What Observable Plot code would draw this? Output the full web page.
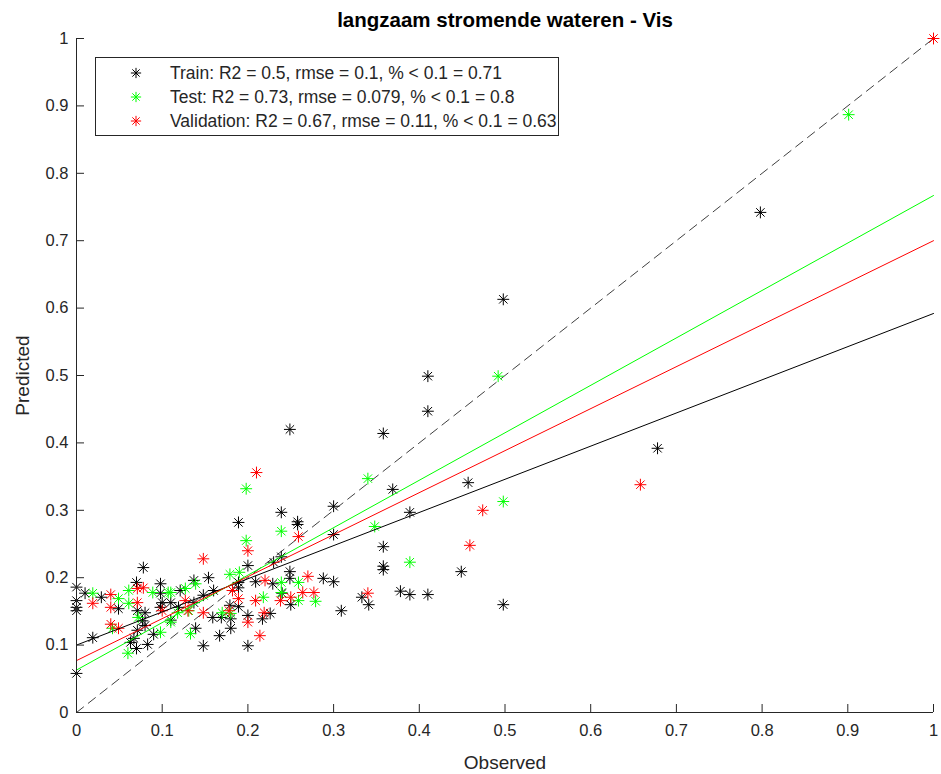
<!DOCTYPE html>
<html><head><meta charset="utf-8">
<script src="https://cdn.jsdelivr.net/npm/d3@7"></script>
<script src="https://cdn.jsdelivr.net/npm/@observablehq/plot@0.6"></script>
<style>body{margin:0;background:#fff}#chart{width:941px;height:774px}</style>
</head><body><div id="chart"></div>
<script>
const title = "langzaam stromende wateren - Vis";
const xLabel = "Observed";
const yLabel = "Predicted";
const seriesNames = ["Train", "Test", "Validation"];
const seriesColors = ["#000000", "#00ff00", "#ff0000"];
const legendLabels = [
  "Train: R2 = 0.5, rmse = 0.1, % < 0.1 = 0.71",
  "Test: R2 = 0.73, rmse = 0.079, % < 0.1 = 0.8",
  "Validation: R2 = 0.67, rmse = 0.11, % < 0.1 = 0.63"
];
const axisTicks = [0, 0.1, 0.2, 0.3, 0.4, 0.5, 0.6, 0.7, 0.8, 0.9, 1];

const trainObs = [0.798,0.498,0.41,0.41,0.249,0.358,0.678,0.457,0.369,0.30,0.389,0.239,0.258,0.258,0.189,0.30,0.358,0.358,0.358,0.449,0.498,0.30,0.333,0.341,0.309,0.378,0.389,0.41,0.2,0.23,0.239,0.249,0.288,0.189,0.209,0.229,0.249,0.24,0.25,0.226,0.217,0.2,0.18,0.167,0.148,0.139,0.18,0.169,0.159,0.189,0.189,0.16,0.154,0.137,0,0,0,0,0,0.01,0.019,0.029,0.049,0.078,0.07,0.098,0.098,0.071,0.08,0.077,0.08,0.071,0.067,0.063,0.07,0.083,0.09,0.098,0.121,0.148,0.1,0.11,0.119,0.137,0.11,0.179,0.2];
const trainPred = [0.742,0.613,0.499,0.447,0.42,0.414,0.392,0.341,0.331,0.306,0.297,0.297,0.283,0.279,0.282,0.264,0.246,0.217,0.212,0.209,0.16,0.194,0.171,0.16,0.151,0.18,0.175,0.175,0.218,0.223,0.231,0.209,0.199,0.193,0.194,0.191,0.199,0.177,0.16,0.147,0.139,0.099,0.125,0.114,0.099,0.125,0.139,0.141,0.141,0.157,0.185,0.181,0.2,0.196,0.186,0.166,0.156,0.151,0.058,0.177,0.111,0.171,0.154,0.215,0.193,0.191,0.177,0.151,0.148,0.136,0.129,0.122,0.11,0.104,0.095,0.101,0.116,0.156,0.181,0.174,0.163,0.163,0.156,0.163,0.137,0.159,0.144];

const testObs = [0.901,0.492,0.498,0.34,0.348,0.389,0.198,0.198,0.239,0.179,0.19,0.239,0.259,0.218,0.239,0.259,0.279,0.17,0.18,0.139,0.127,0.131,0.133,0.11,0.118,0.11,0.098,0.019,0.049,0.042,0.061,0.089,0.061,0.072,0.06,0.107];
const testPred = [0.887,0.499,0.313,0.347,0.276,0.223,0.332,0.255,0.269,0.205,0.208,0.193,0.193,0.171,0.178,0.166,0.165,0.148,0.147,0.191,0.184,0.151,0.117,0.178,0.148,0.134,0.119,0.177,0.169,0.125,0.181,0.178,0.162,0.141,0.088,0.178];

const valObs = [1.0,0.658,0.474,0.459,0.34,0.21,0.259,0.2,0.148,0.27,0.22,0.264,0.277,0.25,0.238,0.209,0.219,0.2,0.214,0.189,0.182,0.178,0.148,0.127,0.13,0.1,0.019,0.04,0.04,0.04,0.049,0.078,0.071,0.071];
const valPred = [1.0,0.338,0.3,0.248,0.177,0.356,0.261,0.24,0.228,0.202,0.196,0.178,0.178,0.171,0.166,0.166,0.148,0.134,0.114,0.169,0.181,0.151,0.148,0.166,0.151,0.151,0.162,0.175,0.156,0.131,0.125,0.185,0.184,0.163];

// fit-line end points (at Observed = 0 and Observed = 1)
const fitX = [0, 1];
const trainFit = [0.100, 0.592];
const testFit = [0.063, 0.767];
const valFit = [0.077, 0.700];
const identity = [0, 1];

const obsAll = [trainObs, testObs, valObs];
const predAll = [trainPred, testPred, valPred];
const fitsAll = [trainFit, testFit, valFit];

const points = [];
seriesNames.forEach((s, i) => obsAll[i].forEach((o, j) => points.push({series: s, obs: o, pred: predAll[i][j]})));
const fitRows = [];
seriesNames.forEach((s, i) => fitX.forEach((x, j) => fitRows.push({series: s, obs: x, pred: fitsAll[i][j]})));
const idRows = fitX.map((x, j) => ({obs: x, pred: identity[j]}));

const colorOf = Object.fromEntries(seriesNames.map((s, i) => [s, seriesColors[i]]));
const font = "'Liberation Sans', Arial, Helvetica, sans-serif";
const ink = "#262626";
const R = 3.9;

const pointMarks = [];
seriesNames.forEach(s => {
  const d = points.filter(p => p.series === s);
  for (const sym of ["plus", "times"]) {
    pointMarks.push(Plot.dot(d, {x: "obs", y: "pred", symbol: () => sym, r: R, stroke: colorOf[s], strokeWidth: 1, fill: "none"}));
  }
});

const plot = Plot.plot({
  width: 941, height: 774,
  marginLeft: 76, marginRight: 8, marginTop: 38, marginBottom: 62,
  style: {fontFamily: font, fontSize: "16px", color: ink, background: "#fff", overflow: "visible"},
  x: {domain: [0, 1], label: null},
  y: {domain: [0, 1], label: null},
  symbol: {type: "identity"},
  marks: [
    Plot.line(idRows, {x: "obs", y: "pred", stroke: "#404040", strokeWidth: 1, strokeDasharray: "9,6"}),
    ...pointMarks,
    ...seriesNames.map(s => Plot.line(fitRows.filter(r => r.series === s), {x: "obs", y: "pred", stroke: colorOf[s], strokeWidth: 1})),
    Plot.ruleY([0], {stroke: ink, strokeWidth: 1}),
    Plot.ruleX([0], {stroke: ink, strokeWidth: 1}),
    Plot.axisX(axisTicks, {tickSize: -8, tickPadding: 20, tickFormat: d => String(d), stroke: ink, fill: ink, fontSize: 16.5, label: null}),
    Plot.axisY(axisTicks, {tickSize: -8, tickPadding: 16, tickFormat: d => String(d), stroke: ink, fill: ink, fontSize: 16.5, label: null}),
    Plot.text([title], {frameAnchor: "top", lineAnchor: "middle", textAnchor: "middle", dy: -18, fontWeight: "bold", fontSize: 20.5, fill: "#000"}),
    Plot.text([xLabel], {frameAnchor: "bottom", lineAnchor: "middle", textAnchor: "middle", dy: 50, fontSize: 19, fill: ink}),
    Plot.text([yLabel], {frameAnchor: "left", lineAnchor: "middle", textAnchor: "middle", dx: -54, rotate: -90, fontSize: 19, fill: ink})
  ]
});

// legend box
const svg = d3.select(plot);
const lg = svg.append("g").attr("font-family", font).attr("font-size", 17.5).attr("fill", ink).attr("text-anchor", "start");
const box = {x: 95, y: 57, w: 463, h: 78};
lg.append("rect").attr("x", box.x + 0.5).attr("y", box.y + 0.5).attr("width", box.w).attr("height", box.h)
  .attr("fill", "#fff").attr("stroke", ink).attr("stroke-width", 1);
const area = Math.PI * 3.4 * 3.4;
legendLabels.forEach((t, i) => {
  const cy = box.y + 16 + i * 24;
  const g = lg.append("g").attr("transform", `translate(${box.x + 41},${cy})`);
  for (const sym of [d3.symbolPlus, d3.symbolTimes]) {
    g.append("path").attr("d", d3.symbol(sym, area)()).attr("fill", "none").attr("stroke", seriesColors[i]).attr("stroke-width", 1);
  }
  lg.append("text").attr("x", box.x + 75).attr("y", cy).attr("dy", "0.35em").attr("text-anchor", "start").text(t);
});

document.getElementById("chart").append(plot);
</script></body></html>
